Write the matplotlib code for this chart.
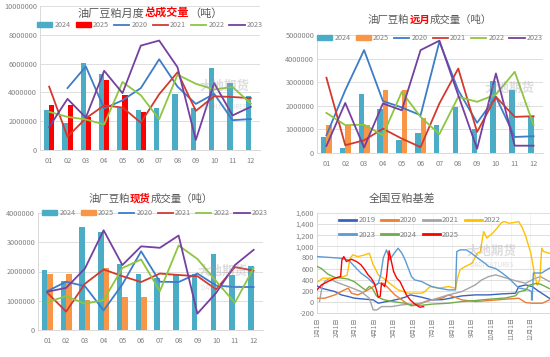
import matplotlib
matplotlib.use("Agg")
import matplotlib.pyplot as plt
import numpy as np
from matplotlib.patches import Patch
from matplotlib.lines import Line2D

plt.rcParams['font.family'] = ['Noto Sans CJK SC', 'DejaVu Sans']

months = ["01", "02", "03", "04", "05", "06", "07", "08", "09", "10", "11", "12"]

# ---- Panel 1: total monthly volume ----
total_2024 = [2.75e6, 1.9e6, 6.05e6, 5.25e6, 2.95e6, 2.8e6, 2.95e6, 3.9e6, 2.95e6, 5.7e6, 4.65e6, 3.75e6]
total_2025 = [3.1e6, 3.15e6, 2.3e6, 4.85e6, 3.85e6, 2.65e6]
total_2020 = [None, 4.3e6, 5.8e6, 2.88e6, 3.45e6, 4.3e6, 6.3e6, 4.4e6, 3.2e6, 3.9e6, 2.07e6, 2.15e6]
total_2021 = [4.4e6, 0.92e6, 2.2e6, 3.1e6, 2.95e6, 1.9e6, 3.87e6, 5.4e6, 2.72e6, 3.73e6, 3.68e6, 3.6e6]
total_2022 = [2.65e6, 2.3e6, 2.12e6, 1.77e6, 4.72e6, 3.8e6, 2.14e6, 5.23e6, 4.6e6, 4.2e6, 4.38e6, 3.22e6]
total_2023 = [1.6e6, 3.55e6, 2.25e6, 5.5e6, 3.95e6, 7.25e6, 7.6e6, 5.75e6, 0.7e6, 4.65e6, 2.4e6, 3.0e6]

# ---- Panel 2: forward-month volume ----
fwd_2024 = [0.68e6, 0.23e6, 2.52e6, 1.88e6, 0.57e6, 0.86e6, 1.2e6, 1.95e6, 1.03e6, 3.05e6, 2.66e6, 1.53e6]
fwd_2025 = [1.18e6, 1.15e6, 1.18e6, 2.66e6, 2.66e6, 1.5e6]
fwd_2020 = [0.75e6, 2.66e6, 4.36e6, 2.2e6, 1.93e6, 1.6e6, 4.72e6, 2.66e6, 1.28e6, 2.38e6, 0.68e6, 0.71e6]
fwd_2021 = [3.19e6, 0.33e6, 0.54e6, 1.03e6, 0.61e6, 0.25e6, 2.1e6, 3.58e6, 0.89e6, 2.38e6, 1.53e6, 1.56e6]
fwd_2022 = [1.7e6, 1.18e6, 1.2e6, 0.75e6, 2.59e6, 1.53e6, 0.8e6, 2.38e6, 2.17e6, 2.48e6, 3.44e6, 1.18e6]
fwd_2023 = [0.3e6, 2.12e6, 0.23e6, 2.1e6, 1.81e6, 4.36e6, 4.76e6, 2.45e6, 0.18e6, 3.37e6, 0.31e6, 0.31e6]

# ---- Panel 3: spot volume ----
spot_2024 = [2.05e6, 1.67e6, 3.52e6, 3.34e6, 2.27e6, 1.9e6, 1.78e6, 1.93e6, 1.92e6, 2.61e6, 1.88e6, 2.18e6]
spot_2025 = [1.9e6, 1.93e6, 1.02e6, 2.12e6, 1.14e6, 1.14e6]
spot_2020 = [1.33e6, 1.65e6, 1.5e6, 0.67e6, 1.56e6, 2.69e6, 1.65e6, 1.64e6, 1.93e6, 1.52e6, 1.47e6, 1.47e6]
spot_2021 = [1.27e6, 0.63e6, 1.58e6, 2.07e6, 1.84e6, 1.64e6, 1.93e6, 1.88e6, 1.84e6, 1.39e6, 2.15e6, 2.03e6]
spot_2022 = [0.95e6, 1.16e6, 0.9e6, 1.02e6, 2.12e6, 2.41e6, 1.33e6, 2.89e6, 2.43e6, 1.67e6, 0.93e6, 2.12e6]
spot_2023 = [1.31e6, 1.44e6, 2.1e6, 3.41e6, 2.22e6, 2.86e6, 2.81e6, 3.23e6, 0.56e6, 1.27e6, 2.22e6, 2.74e6]

# ---- Panel 4: national soymeal basis (day of year, value) ----
basis_day_2019 = [0, 7, 28, 38, 49, 59, 88, 96, 117, 127, 138, 146, 164, 180, 196, 206, 227, 248, 269, 290, 311, 316, 327, 337, 348, 364]
basis_2019 = [288, 246, 186, 126, 96, 66, 36, -24, 24, 48, 84, 126, 84, 36, 40, 60, 108, 126, 126, 144, 156, 276, 306, 276, 186, 66]
basis_day_2020 = [0, 12, 28, 43, 49, 54, 64, 80, 86, 96, 104, 112, 122, 133, 140, 148, 160, 169, 180, 196, 206, 227, 248, 269, 295, 316, 327, 337, 353, 364]
basis_2020 = [66, 66, 126, 216, 246, 156, 126, 216, 260, 336, 336, 246, 126, 36, -24, -72, -40, 6, 36, 66, 126, 36, 6, 24, 48, 66, -12, -24, -24, 36]
basis_day_2021 = [4, 8, 12, 20, 28, 49, 69, 82, 88, 94, 101, 117, 133, 164, 180, 206, 227, 248, 258, 269, 280, 306, 316, 327, 342, 350, 364]
basis_2021 = [6, 276, 366, 426, 366, 276, 186, 66, -144, -144, -84, -84, -54, -24, 36, 126, 186, 306, 396, 456, 486, 396, 366, 336, 426, 456, 366]
basis_day_2022 = [2, 9, 28, 40, 47, 52, 56, 64, 75, 82, 88, 91, 96, 104, 117, 127, 143, 164, 169, 177, 191, 206, 217, 220, 224, 232, 243, 251, 256, 258, 261, 266, 275, 282, 288, 293, 301, 308, 316, 322, 327, 335, 340, 345, 349, 352, 355, 364]
basis_2022 = [366, 426, 426, 450, 480, 786, 846, 816, 846, 876, 666, 606, 486, 426, 306, 216, 156, 156, 186, 276, 246, 276, 246, 420, 576, 636, 696, 876, 906, 1056, 1266, 1150, 1236, 1326, 1416, 1446, 1416, 1428, 1446, 1326, 1176, 876, 546, 300, 400, 966, 906, 876]
basis_day_2023 = [0, 20, 38, 49, 59, 69, 80, 88, 92, 96, 100, 104, 109, 114, 120, 127, 133, 138, 143, 148, 153, 164, 174, 180, 191, 206, 217, 219, 224, 234, 242, 252, 263, 269, 280, 290, 300, 316, 330, 336, 337, 339, 352, 364]
basis_2023 = [816, 800, 786, 756, 636, 516, 426, 336, 300, 330, 500, 800, 936, 756, 860, 966, 876, 756, 606, 456, 396, 366, 306, 276, 246, 216, 216, 906, 936, 936, 876, 786, 696, 636, 600, 520, 430, 250, 220, 190, 30, 520, 520, 606]
basis_day_2024 = [0, 7, 17, 28, 38, 49, 59, 69, 76, 82, 87, 93, 100, 106, 122, 138, 148, 165, 180, 206, 227, 248, 269, 295, 311, 316, 327, 332, 342, 350, 364]
basis_2024 = [640, 600, 500, 440, 430, 410, 360, 270, 210, 280, 240, 110, 60, 36, 0, -24, -60, -60, -40, -24, 6, 24, 48, 70, 110, 180, 210, 300, 330, 320, 240]
basis_day_2025 = [0, 7, 17, 28, 37, 39, 42, 46, 54, 62, 69, 75, 80, 85, 90, 93, 96, 99, 101, 106, 109, 113, 116, 120, 125, 130, 135, 140, 146, 153, 161, 167]
basis_2025 = [216, 306, 366, 426, 456, 756, 816, 726, 768, 726, 666, 576, 486, 426, 330, 216, 80, 100, 336, 276, 456, 920, 756, 546, 426, 366, 246, 126, 36, -36, -96, -84]

month_start = [0, 31, 59, 90, 120, 151, 181, 212, 243, 273, 304, 334]
month_labels = ["1月1日", "2月1日", "3月1日", "4月1日", "5月1日", "6月1日",
                "7月1日", "8月1日", "9月1日", "10月1日", "11月1日", "12月1日"]

C_TEAL = "#4BACC6"
C_RED_BAR = "#FF0000"
C_ORANGE_BAR = "#F79646"
C_BLUE = "#3C7CC8"
C_RED = "#D23A2F"
C_GREEN = "#8DC63F"
C_PURPLE = "#7540A0"
GRID = "#D9D9D9"
TXT = "#808080"

fig = plt.figure(figsize=(5.5, 3.57), dpi=100)
fig.patch.set_facecolor("white")


def style_axes(ax):
    for s in ["top", "right"]:
        ax.spines[s].set_visible(False)
    for s in ["left", "bottom"]:
        ax.spines[s].set_color(GRID)
        ax.spines[s].set_linewidth(0.7)
    ax.tick_params(length=0, labelsize=5.3, colors=TXT, pad=2)
    ax.yaxis.grid(True, color=GRID, linewidth=0.6)
    ax.set_axisbelow(True)


def multi_title(ax, parts, xfrac, yfrac, size):
    texts = []
    t = ax.text(xfrac, yfrac, parts[0][0], transform=ax.transAxes, ha="left", va="center",
                fontsize=size, color=parts[0][1], fontweight=parts[0][2])
    texts.append(t)
    for s, c, w in parts[1:]:
        t = ax.annotate(s, xy=(1, 0), xycoords=t, ha="left", va="bottom",
                        fontsize=size, color=c, fontweight=w)
        texts.append(t)
    return texts


def center_titles(fig, groups):
    fig.canvas.draw()
    r = fig.canvas.get_renderer()
    for ax, texts, cx in groups:
        x0 = texts[0].get_window_extent(r).x0
        x1 = texts[-1].get_window_extent(r).x1
        w = x1 - x0
        target = ax.transAxes.transform((cx, 0))[0]
        shift = target - w / 2 - x0
        pos = texts[0].get_position()
        disp = ax.transAxes.transform(pos)
        newpos = ax.transAxes.inverted().transform((disp[0] + shift, disp[1]))
        texts[0].set_position(newpos)


def watermark(ax, x, y, size):
    ax.text(x, y, "大地期货", transform=ax.transAxes, fontsize=size, color="#9E9E9E",
            alpha=0.35, ha="center", va="center", fontweight="bold", zorder=6)
    ax.text(x, y - 0.14, "DADI FUTURES", transform=ax.transAxes, fontsize=size * 0.5,
            color="#9E9E9E", alpha=0.35, ha="center", va="center", zorder=6)


def volume_panel(ax, b24, b25, c25, l20, l21, l22, l23, ymax, step):
    x = np.arange(12)
    w = 0.29
    ax.bar(x - w / 2, b24, width=w, color=C_TEAL, zorder=2)
    ax.bar(np.arange(len(b25)) + w / 2, b25, width=w, color=c25, zorder=2)
    for vals, col in [(l20, C_BLUE), (l21, C_RED), (l22, C_GREEN), (l23, C_PURPLE)]:
        xs = [i for i, v in enumerate(vals) if v is not None]
        ys = [v for v in vals if v is not None]
        ax.plot(xs, ys, color=col, linewidth=1.3, zorder=3)
    ax.set_xlim(-0.5, 11.5)
    ax.set_ylim(0, ymax)
    ax.set_yticks(np.arange(0, ymax + 1, step))
    ax.set_yticklabels([f"{int(v)}" for v in np.arange(0, ymax + 1, step)])
    ax.set_xticks(x)
    ax.set_xticklabels(months)
    style_axes(ax)
    ax.tick_params(axis="x", pad=5)
    handles = [Patch(color=C_TEAL), Patch(color=c25),
               Line2D([], [], color=C_BLUE, lw=1.3), Line2D([], [], color=C_RED, lw=1.3),
               Line2D([], [], color=C_GREEN, lw=1.3), Line2D([], [], color=C_PURPLE, lw=1.3)]
    return handles


labels6 = ["2024", "2025", "2020", "2021", "2022", "2023"]
LEG = dict(ncol=6, loc="center", frameon=False, fontsize=5.2, handlelength=2.1,
           handleheight=0.6, handletextpad=0.3, columnspacing=0.7, labelcolor=TXT,
           borderpad=0, borderaxespad=0)

# Panel 1
ax1 = fig.add_axes([40 / 550, 1 - 150 / 357, 220 / 550, 144 / 357])
h = volume_panel(ax1, total_2024, total_2025, C_RED_BAR, total_2020, total_2021, total_2022, total_2023, 10000000, 2000000)
ax1.legend(h, labels6, bbox_to_anchor=(0.5, 0.868), **LEG)
t1 = multi_title(ax1, [("油厂豆粕月度", "#595959", "normal"), ("总成交量", "#FF0000", "bold"),
                       ("（吨）", "#595959", "normal")], 0.2, 0.944, 8)
watermark(ax1, 0.84, 0.44, 9)

# Panel 2
ax2 = fig.add_axes([317 / 550, 1 - 153 / 357, 226 / 550, 118 / 357])
h = volume_panel(ax2, fwd_2024, fwd_2025, C_ORANGE_BAR, fwd_2020, fwd_2021, fwd_2022, fwd_2023, 5000000, 1000000)
ax2.legend(h, labels6, bbox_to_anchor=(0.5, 0.975), **LEG)
t2 = multi_title(ax2, [("油厂豆粕", "#595959", "normal"), ("远月", "#FF0000", "bold"),
                       ("成交量（吨）", "#595959", "normal")], 0.2, 1.127, 7.5)
watermark(ax2, 0.85, 0.55, 9)

# Panel 3
ax3 = fig.add_axes([38 / 550, 1 - 330 / 357, 225 / 550, 117 / 357])
h = volume_panel(ax3, spot_2024, spot_2025, C_ORANGE_BAR, spot_2020, spot_2021, spot_2022, spot_2023, 4000000, 1000000)
ax3.legend(h, labels6, bbox_to_anchor=(0.52, 1.0), **LEG)
t3 = multi_title(ax3, [("油厂豆粕", "#595959", "normal"), ("现货", "#FF0000", "bold"),
                       ("成交量（吨）", "#595959", "normal")], 0.2, 1.122, 7.5)
watermark(ax3, 0.82, 0.50, 9)

# Panel 4
ax4 = fig.add_axes([317 / 550, 1 - 313 / 357, 233 / 550, 100 / 357])
basis_series = [("2019", basis_day_2019, basis_2019, "#3A63C0"),
                ("2020", basis_day_2020, basis_2020, "#ED7D31"),
                ("2021", basis_day_2021, basis_2021, "#A5A5A5"),
                ("2022", basis_day_2022, basis_2022, "#FFC000"),
                ("2023", basis_day_2023, basis_2023, "#5B9BD5"),
                ("2024", basis_day_2024, basis_2024, "#70AD47"),
                ("2025", basis_day_2025, basis_2025, "#FF0000")]
for name, d, v, col in basis_series:
    ax4.plot(d, v, color=col, linewidth=1.0, label=name, zorder=3 if name != "2025" else 4)
ax4.set_xlim(0, 365)
ax4.set_ylim(-200, 1600)
ax4.set_yticks(np.arange(-200, 1601, 200))
ax4.set_yticklabels([f"{v:,}" for v in np.arange(-200, 1601, 200)])
ax4.set_xticks(month_start)
ax4.set_xticklabels(month_labels, rotation=90)
style_axes(ax4)
ax4.tick_params(axis="x", labelsize=4.5, pad=3)
ax4.xaxis.grid(True, color="#EDEDED", linewidth=0.5)
# legend laid out row-wise: reorder for column-first filling
order = [0, 4, 1, 5, 2, 6, 3]
lh = [Line2D([], [], color=basis_series[i][3], lw=2.0) for i in order]
ll = [basis_series[i][0] for i in order]
ax4.legend(lh, ll, ncol=4, loc="upper left", bbox_to_anchor=(0.095, 0.965), frameon=False,
           fontsize=5.5, handlelength=2.2, handletextpad=0.3, columnspacing=0.75,
           labelspacing=0.85, labelcolor=TXT, borderpad=0, borderaxespad=0)
ax4.text(0.365, 1.14, "全国豆粕基差", transform=ax4.transAxes, ha="center", va="center",
         fontsize=8, color="#595959")
watermark(ax4, 0.75, 0.62, 9)

center_titles(fig, [(ax1, t1, 0.5), (ax2, t2, 0.5), (ax3, t3, 0.5)])

fig.savefig("out.png", dpi=100, facecolor="white")
